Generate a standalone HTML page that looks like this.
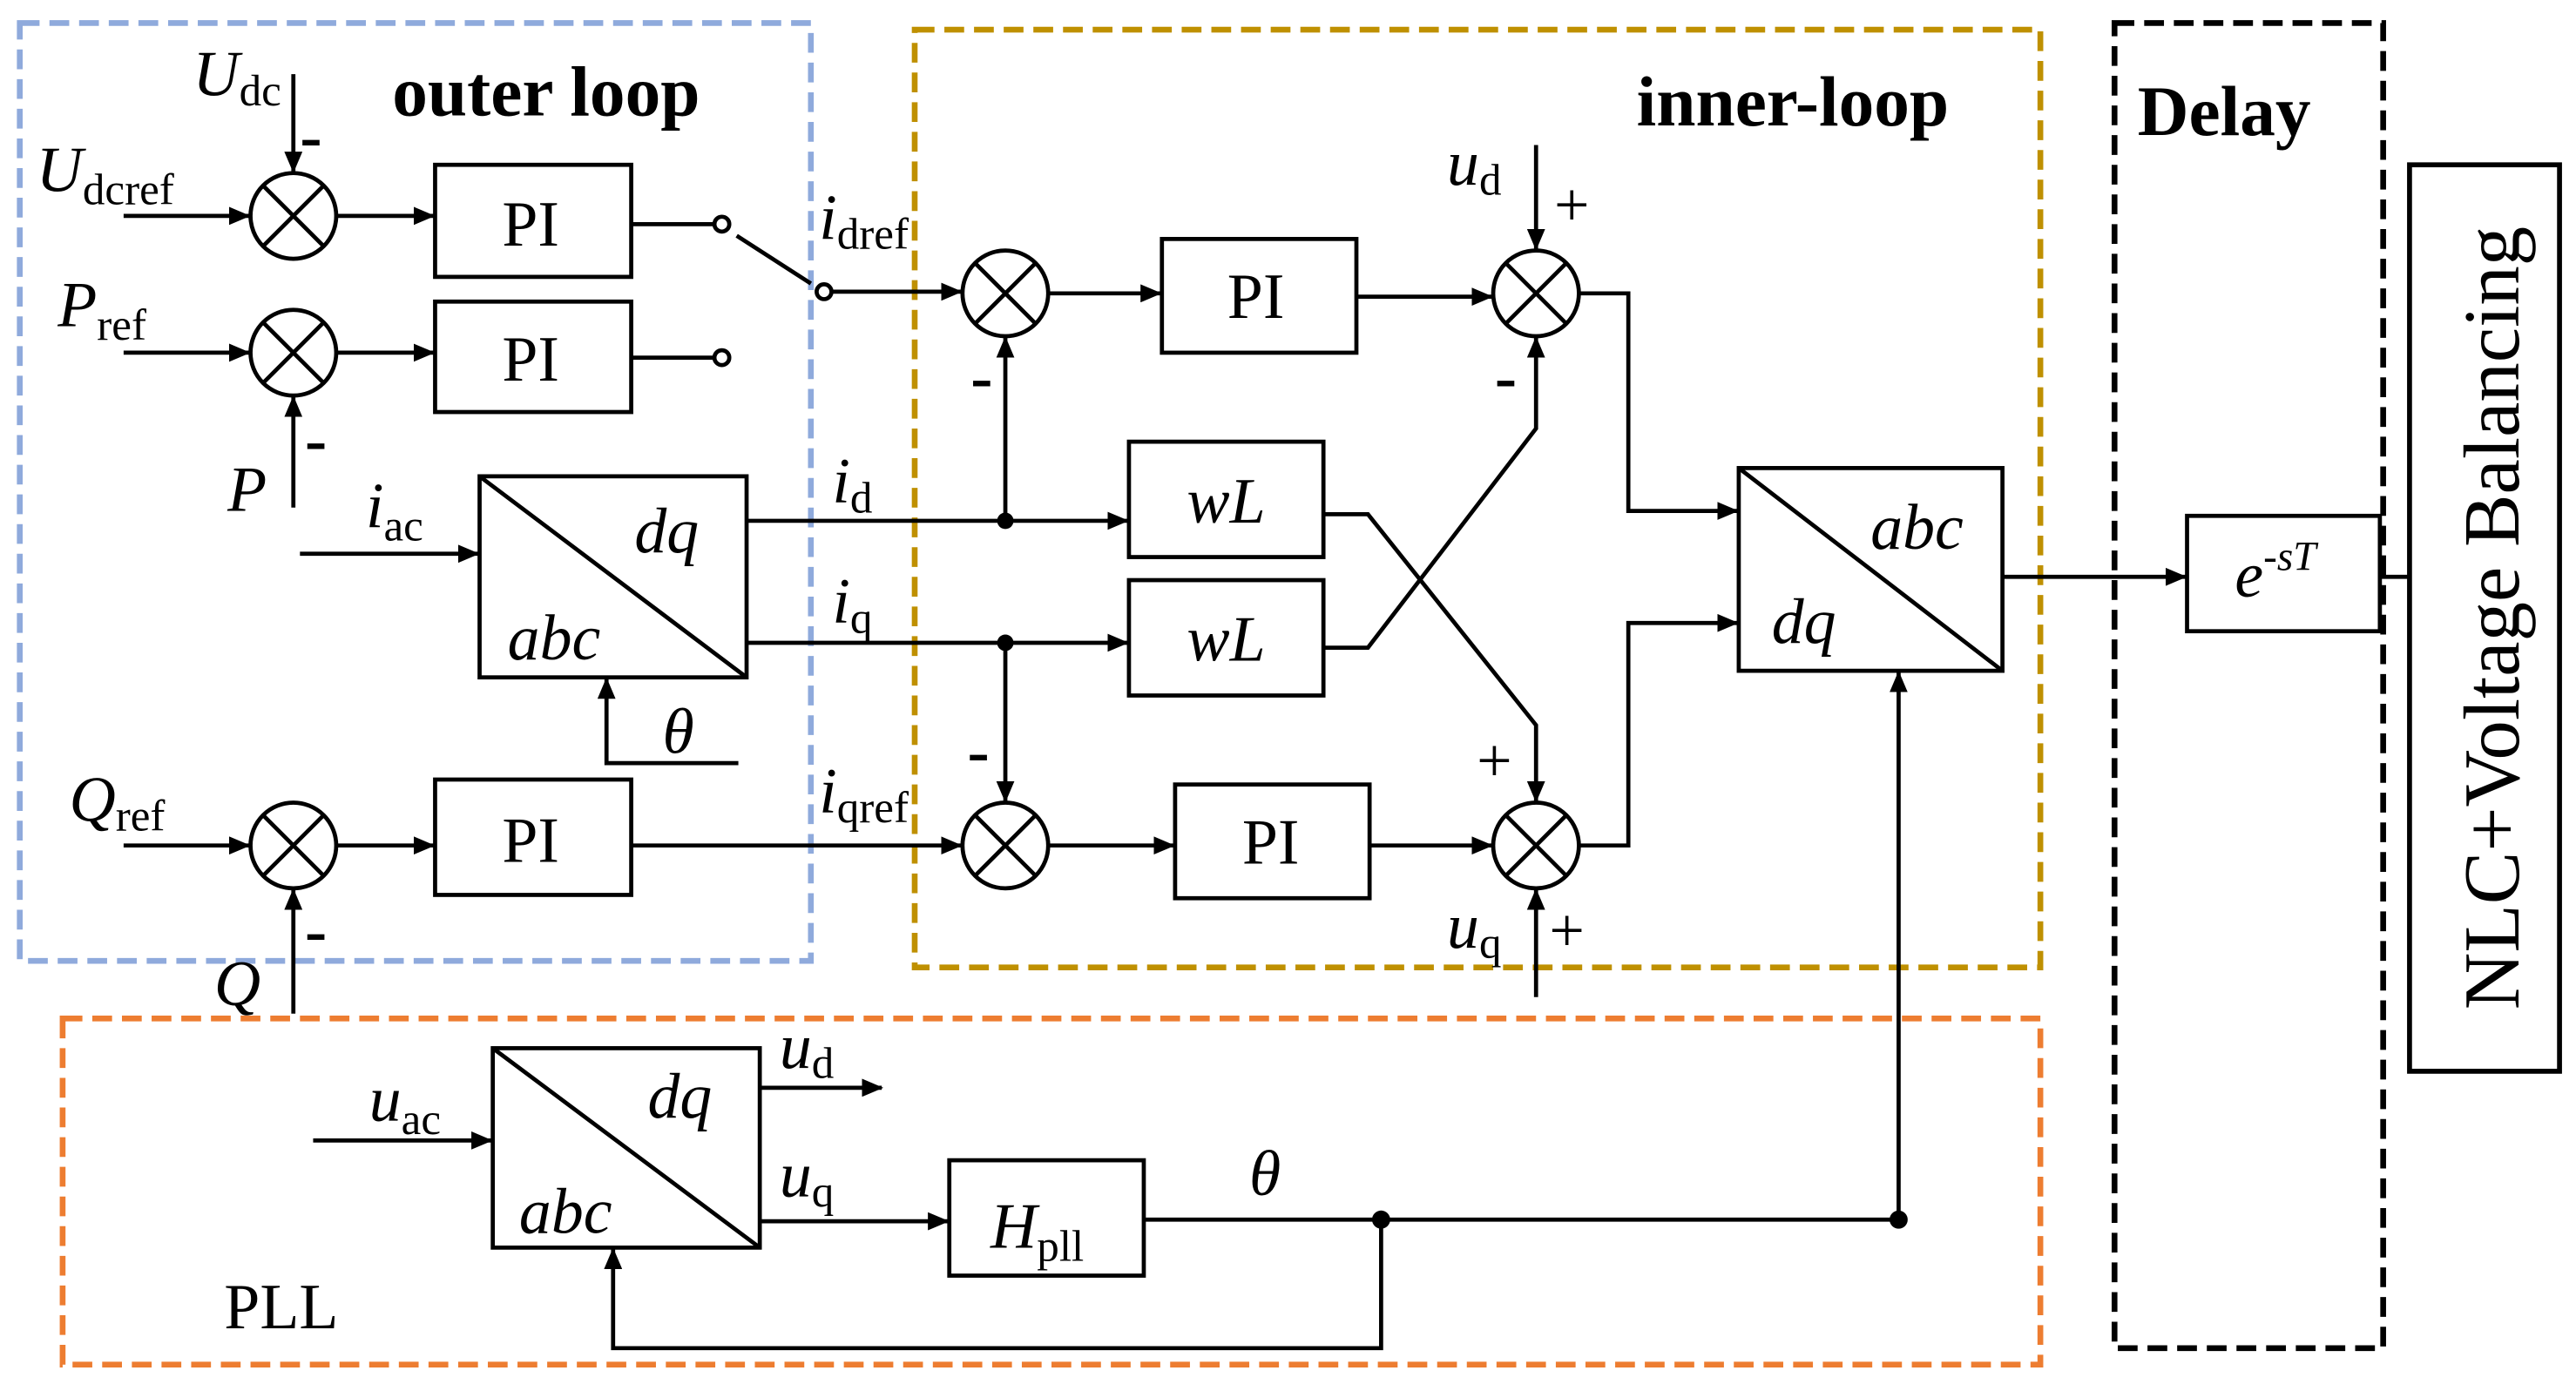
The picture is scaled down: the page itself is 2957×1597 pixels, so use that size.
<!DOCTYPE html>
<html><head><meta charset="utf-8"><style>
html,body{margin:0;padding:0;background:#fff;}
svg{display:block;}
text{font-family:"Liberation Serif",serif;fill:#000;}
.i{font-style:italic;font-size:39px;}
.s{font-style:normal;font-size:27px;}
</style></head><body>
<svg width="2957" height="1597" viewBox="0 0 1563 844" preserveAspectRatio="none" xmlns="http://www.w3.org/2000/svg">
<defs><marker id="a" markerWidth="13" markerHeight="11" refX="12" refY="5.5" orient="auto" markerUnits="userSpaceOnUse"><path d="M0,0 L13,5.5 L0,11 z" fill="#000"/></marker></defs>
<rect width="1563" height="844" fill="#fff"/>
<g fill="none" stroke-width="3.5" stroke-dasharray="12,6">
<rect x="12" y="14" width="480" height="569" stroke="#8faadc"/>
<rect x="555" y="18" width="683" height="569" stroke="#bf9000"/>
<rect x="1283" y="14" width="163" height="804" stroke="#000"/>
<rect x="38" y="618" width="1200" height="210" stroke="#ed7d31"/>
</g>
<rect x="1462" y="100" width="91" height="550" fill="none" stroke="#000" stroke-width="3"/>
<text transform="translate(1528,375) rotate(-90)" text-anchor="middle" font-size="48">NLC+Voltage Balancing</text>
<g fill="none" stroke="#000" stroke-width="2.5">
<circle cx="178" cy="131" r="26"/><circle cx="178" cy="214" r="26"/><circle cx="178" cy="513" r="26"/>
<circle cx="610" cy="178" r="26"/><circle cx="932" cy="178" r="26"/><circle cx="610" cy="513" r="26"/><circle cx="932" cy="513" r="26"/>
<path d="M160,113l36,36M196,113l-36,36 M160,196l36,36M196,196l-36,36 M160,495l36,36M196,495l-36,36 M592,160l36,36M628,160l-36,36 M914,160l36,36M950,160l-36,36 M592,495l36,36M628,495l-36,36 M914,495l36,36M950,495l-36,36"/>
<rect x="264" y="100" width="119" height="68"/><rect x="264" y="183" width="119" height="67"/><rect x="264" y="473" width="119" height="70"/>
<rect x="705" y="145" width="118" height="69"/><rect x="713" y="476" width="118" height="69"/>
<rect x="685" y="268" width="118" height="70"/><rect x="685" y="352" width="118" height="70"/>
<rect x="291" y="289" width="162" height="122"/><path d="M291,289L453,411"/>
<rect x="1055" y="284" width="160" height="123"/><path d="M1055,284L1215,407"/>
<rect x="299" y="636" width="162" height="121"/><path d="M299,636L461,757"/>
<rect x="576" y="704" width="118" height="70"/>
<rect x="1327" y="313" width="117" height="70"/>
<circle cx="438" cy="136" r="4.5"/><circle cx="438" cy="217" r="4.5"/><circle cx="500" cy="177" r="4.5"/>
<path d="M447,143L492,172"/>
</g>
<g fill="none" stroke="#000" stroke-width="2.5" marker-end="url(#a)">
<path d="M75,131H151"/><path d="M178,45V104"/><path d="M204,131H263"/>
<path d="M75,214H151"/><path d="M178,308V241"/><path d="M204,214H263"/>
<path d="M182,336H290"/>
<path d="M453,316H684"/><path d="M610,316V205"/>
<path d="M453,390H684"/><path d="M610,390V486"/>
<path d="M448,463H368V412"/>
<path d="M75,513H151"/><path d="M178,615V540"/><path d="M204,513H263"/>
<path d="M383,513H583"/><path d="M505,177H583"/>
<path d="M636,178H704"/><path d="M823,180H905"/>
<path d="M932,88V151"/>
<path d="M803,312H830L932,440V486"/>
<path d="M803,393H830L932,260V205"/>
<path d="M958,178H988V310H1054"/>
<path d="M958,513H988V378H1054"/>
<path d="M932,605V540"/>
<path d="M636,513H712"/>
<path d="M831,513H905"/>
<path d="M1215,350H1326"/>
<path d="M190,692H298"/><path d="M461,660H535"/><path d="M461,741H575"/>
<path d="M1152,740V408"/><path d="M838,740V818H372V758"/>
</g>
<g fill="none" stroke="#000" stroke-width="2.5">
<path d="M383,136H433M383,217H433M694,740H1152M1444,350H1462"/>
</g>
<g fill="#000"><circle cx="610" cy="316" r="5"/><circle cx="610" cy="390" r="5"/><circle cx="838" cy="740" r="5.5"/><circle cx="1152" cy="740" r="5.5"/></g>
<g font-size="39">
<text x="322" y="149" text-anchor="middle">PI</text><text x="322" y="231" text-anchor="middle">PI</text><text x="322" y="523" text-anchor="middle">PI</text>
<text x="762" y="193" text-anchor="middle">PI</text><text x="771" y="524" text-anchor="middle">PI</text>
<text x="744" y="317" text-anchor="middle" class="i">wL</text><text x="744" y="401" text-anchor="middle" class="i">wL</text>
<text x="385" y="335" class="i">dq</text><text x="308" y="400" class="i">abc</text>
<text x="1135" y="333" class="i">abc</text><text x="1075" y="390" class="i">dq</text>
<text x="393" y="678" class="i">dq</text><text x="315" y="748" class="i">abc</text>
<text x="601" y="757" class="i">H<tspan class="s" dy="8">pll</tspan></text>
<text x="1356" y="362" class="i">e<tspan font-size="25" dy="-16">-sT</tspan></text>
</g>
<g font-weight="bold" font-size="43">
<text x="238" y="70">outer loop</text><text x="993" y="76">inner-loop</text><text x="1297" y="82">Delay</text>
</g>
<text x="136" y="806" font-size="39">PLL</text>
<g>
<text x="117" y="58" class="i">U<tspan class="s" dy="6">dc</tspan></text>
<text x="22" y="116" class="i">U<tspan class="s" dy="8">dcref</tspan></text>
<text x="35" y="198" class="i">P<tspan class="s" dy="8">ref</tspan></text>
<text x="138" y="310" class="i">P</text>
<text x="222" y="320" class="i">i<tspan class="s" dy="8">ac</tspan></text>
<text x="42" y="498" class="i">Q<tspan class="s" dy="6">ref</tspan></text>
<text x="130" y="610" class="i">Q</text>
<text x="497" y="145" class="i">i<tspan class="s" dy="6">dref</tspan></text>
<text x="505" y="305" class="i">i<tspan class="s" dy="6">d</tspan></text>
<text x="505" y="378" class="i">i<tspan class="s" dy="6">q</tspan></text>
<text x="497" y="493" class="i">i<tspan class="s" dy="6">qref</tspan></text>
<text x="402" y="457" class="i">θ</text>
<text x="878" y="112" class="i">u<tspan class="s" dy="6">d</tspan></text>
<text x="878" y="575" class="i">u<tspan class="s" dy="6">q</tspan></text>
<text x="224" y="680" class="i">u<tspan class="s" dy="8">ac</tspan></text>
<text x="473" y="648" class="i">u<tspan class="s" dy="6">d</tspan></text>
<text x="473" y="726" class="i">u<tspan class="s" dy="6">q</tspan></text>
<text x="758" y="725" class="i">θ</text>
</g>
<g font-size="40" font-weight="bold">
<text x="182" y="96">-</text><text x="185" y="280">-</text><text x="185" y="578">-</text>
<text x="589" y="242">-</text><text x="587" y="469">-</text><text x="907" y="242">-</text>
</g>
<g font-size="38">
<text x="943" y="137">+</text><text x="896" y="474">+</text><text x="940" y="577">+</text>
</g>
</svg>
</body></html>
